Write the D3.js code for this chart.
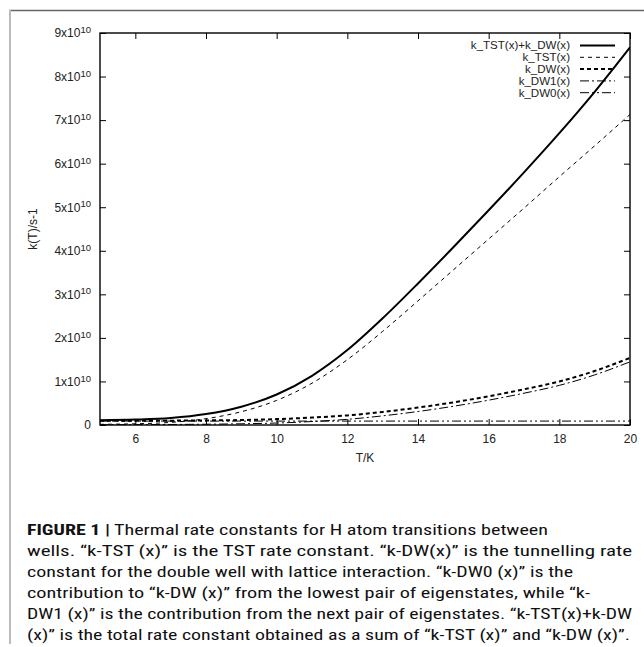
<!DOCTYPE html>
<html><head><meta charset="utf-8">
<script src="https://cdn.jsdelivr.net/npm/d3@7"></script>
<style>body{margin:0;background:#fff}</style>
</head><body>
<svg id="chart" width="644" height="647"></svg>
<script>
// Data (rate constants in units of 1e10 s^-1)
const temps   = [5,6,7,8,9,10,11,12,13,14,15,16,17,18,19,20];
const kTotal  = [0.11,0.125,0.16,0.25,0.42,0.7,1.13,1.72,2.45,3.25,4.08,4.93,5.8,6.7,7.65,8.67];
const kTST    = [0.015,0.028,0.06,0.145,0.305,0.565,0.96,1.5,2.15,2.85,3.56,4.27,4.98,5.7,6.41,7.13];
const kDW     = [0.095,0.097,0.1,0.105,0.115,0.135,0.17,0.22,0.3,0.4,0.52,0.66,0.82,1.0,1.24,1.54];
const kDW1    = [0.005,0.008,0.012,0.018,0.028,0.045,0.08,0.13,0.21,0.31,0.43,0.57,0.73,0.91,1.15,1.45];
const kDW0    = [0.09,0.09,0.09,0.09,0.09,0.09,0.09,0.09,0.09,0.09,0.09,0.09,0.09,0.09,0.09,0.09];
const seriesNames = ["k_TST(x)+k_DW(x)","k_TST(x)","k_DW(x)","k_DW1(x)","k_DW0(x)"];
const xTicks = [6,8,10,12,14,16,18,20];
const yTicks = [0,1,2,3,4,5,6,7,8,9];
const captionBold = "FIGURE 1 |";
const captionLines = [
  "Thermal rate constants for H atom transitions between",
  "wells. \u201Ck-TST (x)\u201D is the TST rate constant. \u201Ck-DW(x)\u201D is the tunnelling rate",
  "constant for the double well with lattice interaction. \u201Ck-DW0 (x)\u201D is the",
  "contribution to \u201Ck-DW (x)\u201D from the lowest pair of eigenstates, while \u201Ck-",
  "DW1 (x)\u201D is the contribution from the next pair of eigenstates. \u201Ck-TST(x)+k-DW",
  "(x)\u201D is the total rate constant obtained as a sum of \u201Ck-TST (x)\u201D and \u201Ck-DW (x)\u201D."
];

const svg = d3.select("#chart");
const FONT = "'Liberation Sans', Arial, Helvetica, sans-serif";

// outer frame
svg.append("line").attr("x1",9).attr("x2",644).attr("y1",10.5).attr("y2",10.5).attr("stroke","#666").attr("stroke-width",1.5);
svg.append("line").attr("x1",10).attr("x2",10).attr("y1",10).attr("y2",644).attr("stroke","#bbb").attr("stroke-width",2);

const L=100, R=630, T=33, B=425;
const x = d3.scaleLinear().domain([5,20]).range([L,R]);
const y = d3.scaleLinear().domain([0,9]).range([B,T]);

// axes
const gx = svg.append("g").attr("transform",`translate(0,${B})`)
  .call(d3.axisBottom(x).tickValues(xTicks).tickSize(-6).tickPadding(9).tickFormat(d3.format("d")));
const gxt = svg.append("g").attr("transform",`translate(0,${T})`)
  .call(d3.axisTop(x).tickValues(xTicks).tickSize(-6).tickFormat(""));
const gy = svg.append("g").attr("transform",`translate(${L},0)`)
  .call(d3.axisLeft(y).tickValues(yTicks).tickSize(-6).tickPadding(9));
const gyr = svg.append("g").attr("transform",`translate(${R},0)`)
  .call(d3.axisRight(y).tickValues(yTicks).tickSize(-6).tickFormat(""));
[gx,gxt,gy,gyr].forEach(g=>{
  g.select(".domain").remove();
  g.selectAll(".tick line").attr("stroke","#000").attr("stroke-width",1);
  g.selectAll("text").attr("font-family",FONT).attr("font-size",12).attr("fill","#222");
});
gy.selectAll(".tick text").text(null).each(function(d){
  const t=d3.select(this);
  if(d===0){ t.text("0"); }
  else {
    t.append("tspan").text(d+"x10");
    t.append("tspan").attr("dy","-0.45em").attr("font-size",9.5).text("10");
  }
});

// frame
svg.append("rect").attr("x",L).attr("y",T).attr("width",R-L).attr("height",B-T)
  .attr("fill","none").attr("stroke","#000").attr("stroke-width",1.4);

// labels
svg.append("text").attr("transform",`translate(37,${(T+B)/2}) rotate(-90)`).attr("text-anchor","middle")
  .attr("font-family",FONT).attr("font-size",12).attr("fill","#222").text("k(T)/s-1");
svg.append("text").attr("x",(L+R)/2).attr("y",462).attr("text-anchor","middle")
  .attr("font-family",FONT).attr("font-size",12).attr("fill","#222").text("T/K");

// series
const styles = [
  {vals:kTotal, w:2,   dash:null},
  {vals:kTST,   w:1,   dash:"4,4"},
  {vals:kDW,    w:2,   dash:"4,3"},
  {vals:kDW1,   w:1,   dash:"9,3,2,3"},
  {vals:kDW0,   w:1,   dash:"9,3,2,3,2,3"}
];
const line = d3.line().x(d=>x(d[0])).y(d=>y(d[1])).curve(d3.curveMonotoneX);
svg.append("clipPath").attr("id","pc").append("rect").attr("x",L).attr("y",T).attr("width",R-L).attr("height",B-T);
styles.forEach(s=>{
  svg.append("path").attr("clip-path","url(#pc)")
    .datum(temps.map((t,i)=>[t,s.vals[i]]))
    .attr("d",line).attr("fill","none").attr("stroke","#000")
    .attr("stroke-width",s.w).attr("stroke-dasharray",s.dash);
});

// legend
seriesNames.forEach((name,i)=>{
  const cy = 45.5 + i*11.8;
  const t = svg.append("text").attr("x",570).attr("y",cy+3.8).attr("text-anchor","end")
    .attr("font-family",FONT).attr("font-size",10.5).attr("fill","#222").text(name);
  const w = t.node().getComputedTextLength();
  t.attr("textLength",w*1.1).attr("lengthAdjust","spacingAndGlyphs");
  svg.append("line").attr("x1",580).attr("x2",615).attr("y1",cy).attr("y2",cy)
    .attr("stroke","#000").attr("stroke-width",styles[i].w).attr("stroke-dasharray",styles[i].dash);
});

// caption
const CAP = "'Liberation Sans Narrow','Roboto Condensed','Liberation Sans',Arial,sans-serif";
const capY = [535,556,577,598,619,640];
const capEnd = [548,632,573,590,632,630];
svg.append("text").attr("x",27).attr("y",capY[0]).attr("font-family",CAP).attr("font-size",15.5)
  .attr("font-weight","bold").attr("fill","#111").attr("textLength",83).attr("lengthAdjust","spacingAndGlyphs").text(captionBold);
captionLines.forEach((s,i)=>{
  const x0 = i===0 ? 114 : 27;
  svg.append("text").attr("x",x0).attr("y",capY[i]).attr("font-family",CAP).attr("font-size",15.5)
    .attr("fill","#111").attr("textLength",capEnd[i]-x0).attr("lengthAdjust","spacingAndGlyphs").text(s);
});
</script>
</body></html>
